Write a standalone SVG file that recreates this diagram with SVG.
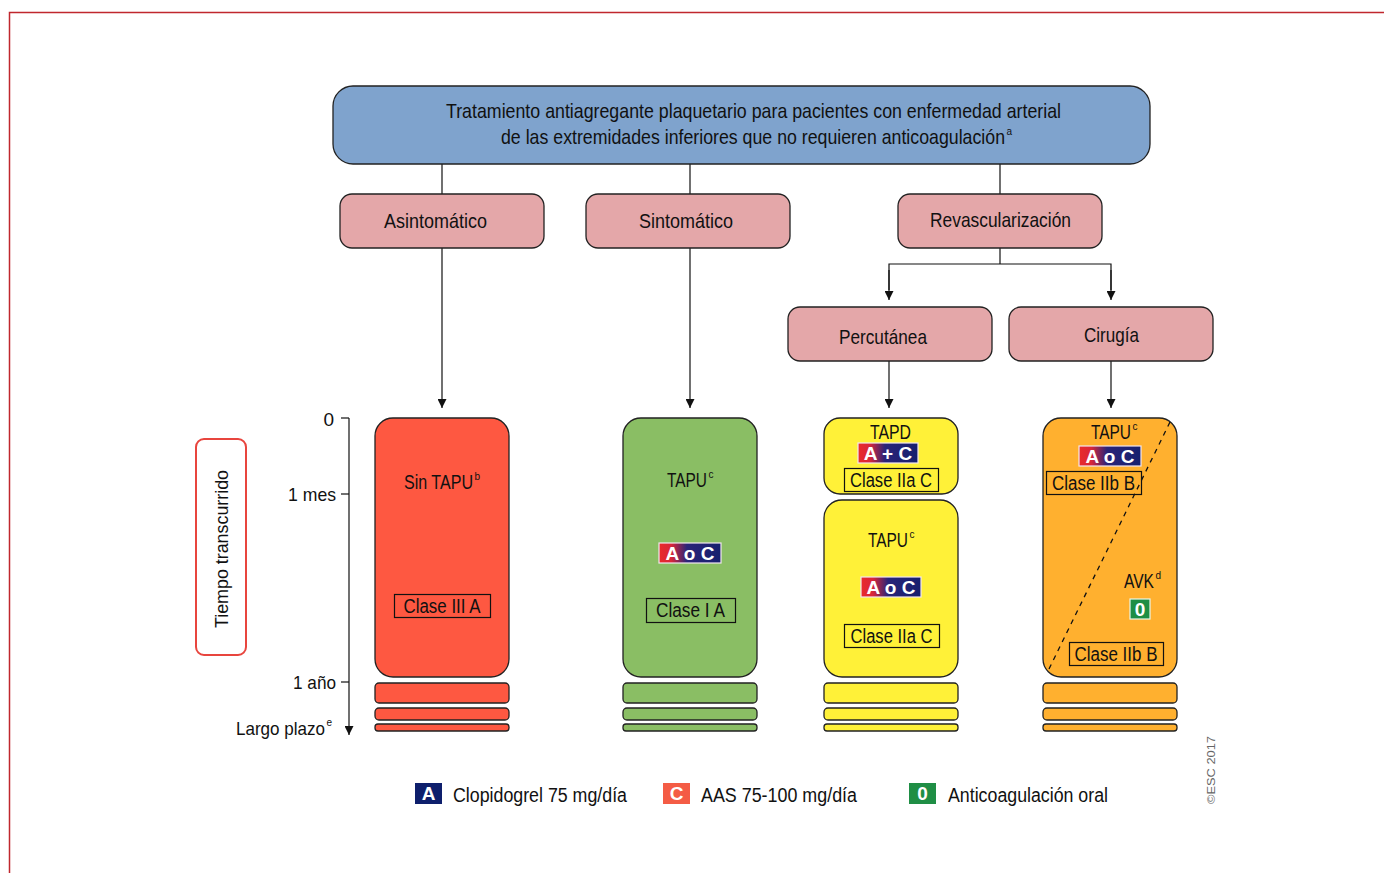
<svg xmlns="http://www.w3.org/2000/svg" width="1384" height="873" viewBox="0 0 1384 873">
<defs>
<style>
text{font-family:"Liberation Sans",Arial,sans-serif;fill:#111}
.t21{font-size:21px}
.t20{font-size:20px}
.t19{font-size:19px}
.sup{font-size:10px}
.box{stroke:#222;stroke-width:1.3}
.blue{fill:#7fa3cd}
.pink{fill:#e4a7a9}
.red{fill:#fe5841}
.green{fill:#8abe64}
.yellow{fill:#fff138}
.orange{fill:#ffb02f}
.cls{fill:none;stroke:#111;stroke-width:1.2}
.wl{font-weight:bold;fill:#fff;font-size:19px}
.ln{stroke:#111;stroke-width:1.2;fill:none}
</style>
<linearGradient id="bg" x1="0" y1="0" x2="1" y2="0">
<stop offset="0" stop-color="#ea2a2a"/>
<stop offset="0.2" stop-color="#d8263a"/>
<stop offset="0.45" stop-color="#2a2478"/>
<stop offset="1" stop-color="#16206e"/>
</linearGradient>
<marker id="ar" viewBox="0 0 10 10" refX="10" refY="5" markerWidth="9" markerHeight="9" markerUnits="userSpaceOnUse" orient="auto">
<path d="M0,0 L10,5 L0,10 z" fill="#111"/>
</marker>
</defs>
<rect width="1384" height="873" fill="#fff"/>
<path d="M9.5,873 V12.5 H1384" fill="none" stroke="#c0272d" stroke-width="1.5"/>

<g id="connectors">
<line class="ln" x1="442" y1="164" x2="442" y2="194"/>
<line class="ln" x1="690" y1="164" x2="690" y2="194"/>
<line class="ln" x1="1000" y1="164" x2="1000" y2="194"/>
<line class="ln" x1="442" y1="248" x2="442" y2="408" marker-end="url(#ar)"/>
<line class="ln" x1="690" y1="248" x2="690" y2="408" marker-end="url(#ar)"/>
<polyline class="ln" points="1000,248 1000,264"/>
<polyline class="ln" points="889,290 889,264 1111,264 1111,290"/>
<line class="ln" x1="889" y1="270" x2="889" y2="300" marker-end="url(#ar)"/>
<line class="ln" x1="1111" y1="270" x2="1111" y2="300" marker-end="url(#ar)"/>
<line class="ln" x1="889" y1="361" x2="889" y2="408" marker-end="url(#ar)"/>
<line class="ln" x1="1111" y1="361" x2="1111" y2="408" marker-end="url(#ar)"/>
</g>

<g id="top">
<rect class="box blue" x="333" y="86" width="817" height="78" rx="20"/>
<text class="t21" x="753.5" y="118" text-anchor="middle" textLength="615" lengthAdjust="spacingAndGlyphs">Tratamiento antiagregante plaquetario para pacientes con enfermedad arterial</text>
<text class="t21" x="501" y="144"><tspan textLength="504" lengthAdjust="spacingAndGlyphs">de las extremidades inferiores que no requieren anticoagulación</tspan><tspan class="sup" dx="1.5" dy="-9">a</tspan></text>
</g>

<g id="asintomatico">
<rect class="box pink" x="340" y="194" width="204" height="54" rx="12"/>
<text class="t21" x="435.5" y="228" text-anchor="middle" textLength="103" lengthAdjust="spacingAndGlyphs">Asintomático</text>
</g>
<g id="sintomatico">
<rect class="box pink" x="586" y="194" width="204" height="54" rx="12"/>
<text class="t21" x="686" y="228" text-anchor="middle" textLength="94" lengthAdjust="spacingAndGlyphs">Sintomático</text>
</g>
<g id="revascularizacion">
<rect class="box pink" x="898" y="194" width="204" height="54" rx="12"/>
<text class="t21" x="1000.5" y="227" text-anchor="middle" textLength="141" lengthAdjust="spacingAndGlyphs">Revascularización</text>
</g>
<g id="percutanea">
<rect class="box pink" x="788" y="307" width="204" height="54" rx="12"/>
<text class="t21" x="883" y="344" text-anchor="middle" textLength="88" lengthAdjust="spacingAndGlyphs">Percutánea</text>
</g>
<g id="cirugia">
<rect class="box pink" x="1009" y="307" width="204" height="54" rx="12"/>
<text class="t21" x="1111.5" y="342" text-anchor="middle" textLength="55" lengthAdjust="spacingAndGlyphs">Cirugía</text>
</g>

<g id="timeline">
<line class="ln" x1="349" y1="418" x2="349" y2="735" marker-end="url(#ar)"/>
<line class="ln" x1="341" y1="418" x2="349" y2="418"/>
<line class="ln" x1="341" y1="494" x2="349" y2="494"/>
<line class="ln" x1="341" y1="682" x2="349" y2="682"/>
<text class="t19" x="334" y="426" text-anchor="end">0</text>
<text class="t19" x="336" y="501" text-anchor="end" textLength="48" lengthAdjust="spacingAndGlyphs">1 mes</text>
<text class="t19" x="336" y="689" text-anchor="end" textLength="43" lengthAdjust="spacingAndGlyphs">1 año</text>
<text class="t19" x="236" y="735"><tspan textLength="89" lengthAdjust="spacingAndGlyphs">Largo plazo</tspan><tspan class="sup" dx="1.5" dy="-9">e</tspan></text>
</g>

<g id="tiempo">
<rect x="196" y="439" width="50" height="216" rx="8" fill="#fff" stroke="#e8453e" stroke-width="2"/>
<text class="t19" transform="translate(228,549) rotate(-90)" text-anchor="middle" textLength="158" lengthAdjust="spacingAndGlyphs">Tiempo transcurrido</text>
</g>

<g id="col-asintomatico">
<rect class="box red" x="375" y="418" width="134" height="259" rx="18"/>
<rect class="box red" x="375" y="683" width="134" height="20" rx="4"/>
<rect class="box red" x="375" y="708" width="134" height="12" rx="4"/>
<rect class="box red" x="375" y="724" width="134" height="7" rx="3"/>
<text class="t20" x="404" y="489"><tspan textLength="69" lengthAdjust="spacingAndGlyphs">Sin TAPU</tspan><tspan class="sup" dx="1.5" dy="-9">b</tspan></text>
<rect class="cls" x="394.5" y="594.5" width="96" height="23"/>
<text class="t20" x="442" y="613" text-anchor="middle" textLength="77" lengthAdjust="spacingAndGlyphs">Clase III A</text>
</g>

<g id="col-sintomatico">
<rect class="box green" x="623" y="418" width="134" height="259" rx="18"/>
<rect class="box green" x="623" y="683" width="134" height="20" rx="4"/>
<rect class="box green" x="623" y="708" width="134" height="12" rx="4"/>
<rect class="box green" x="623" y="724" width="134" height="7" rx="3"/>
<text class="t20" x="667" y="487"><tspan textLength="40" lengthAdjust="spacingAndGlyphs">TAPU</tspan><tspan class="sup" dx="1.5" dy="-9">c</tspan></text>
<rect x="659" y="543" width="62" height="20" fill="url(#bg)" stroke="#f2e6f0" stroke-width="1.2"/>
<text class="wl" x="690" y="560" text-anchor="middle">A o C</text>
<rect class="cls" x="646.5" y="598.5" width="89" height="24"/>
<text class="t20" x="690.5" y="617" text-anchor="middle" textLength="69" lengthAdjust="spacingAndGlyphs">Clase I A</text>
</g>

<g id="col-percutanea">
<rect class="box yellow" x="824" y="418" width="134" height="76" rx="16"/>
<rect class="box yellow" x="824" y="500" width="134" height="177" rx="18"/>
<rect class="box yellow" x="824" y="683" width="134" height="20" rx="4"/>
<rect class="box yellow" x="824" y="708" width="134" height="12" rx="4"/>
<rect class="box yellow" x="824" y="724" width="134" height="7" rx="3"/>
<text class="t20" x="890.5" y="439" text-anchor="middle" textLength="41" lengthAdjust="spacingAndGlyphs">TAPD</text>
<rect x="858" y="443" width="60" height="20" fill="url(#bg)" stroke="#f2e6f0" stroke-width="1.2"/>
<text class="wl" x="888" y="460" text-anchor="middle">A + C</text>
<rect class="cls" x="844.5" y="468.5" width="94" height="23"/>
<text class="t20" x="891" y="487" text-anchor="middle" textLength="82" lengthAdjust="spacingAndGlyphs">Clase IIa C</text>
<text class="t20" x="868" y="547"><tspan textLength="40" lengthAdjust="spacingAndGlyphs">TAPU</tspan><tspan class="sup" dx="1.5" dy="-9">c</tspan></text>
<rect x="861" y="577" width="60" height="20" fill="url(#bg)" stroke="#f2e6f0" stroke-width="1.2"/>
<text class="wl" x="891" y="594" text-anchor="middle">A o C</text>
<rect class="cls" x="844.5" y="624.5" width="95" height="23"/>
<text class="t20" x="891.5" y="643" text-anchor="middle" textLength="82" lengthAdjust="spacingAndGlyphs">Clase IIa C</text>
</g>

<g id="col-cirugia">
<rect class="box orange" x="1043" y="418" width="134" height="259" rx="18"/>
<rect class="box orange" x="1043" y="683" width="134" height="20" rx="4"/>
<rect class="box orange" x="1043" y="708" width="134" height="12" rx="4"/>
<rect class="box orange" x="1043" y="724" width="134" height="7" rx="3"/>
<line x1="1170" y1="422" x2="1047" y2="673" stroke="#111" stroke-width="1.3" stroke-dasharray="5,5"/>
<text class="t20" x="1091" y="439"><tspan textLength="40" lengthAdjust="spacingAndGlyphs">TAPU</tspan><tspan class="sup" dx="1.5" dy="-9">c</tspan></text>
<rect x="1079" y="446" width="62" height="20" fill="url(#bg)" stroke="#f2e6f0" stroke-width="1.2"/>
<text class="wl" x="1110" y="463" text-anchor="middle">A o C</text>
<rect class="cls" x="1046.5" y="471.5" width="95" height="23"/>
<text class="t20" x="1093.5" y="490" text-anchor="middle" textLength="83" lengthAdjust="spacingAndGlyphs">Clase IIb B</text>
<text class="t20" x="1124" y="588"><tspan textLength="30" lengthAdjust="spacingAndGlyphs">AVK</tspan><tspan class="sup" dx="1.5" dy="-9">d</tspan></text>
<rect x="1130" y="599" width="20" height="20" fill="#1f8e45" stroke="#eaf5ea" stroke-width="1.2"/>
<text class="wl" x="1140" y="616" text-anchor="middle">0</text>
<rect class="cls" x="1069.5" y="642.5" width="94" height="23"/>
<text class="t20" x="1116" y="661" text-anchor="middle" textLength="83" lengthAdjust="spacingAndGlyphs">Clase IIb B</text>
</g>

<g id="legend">
<rect x="415" y="783" width="27" height="21" fill="#0e1f6c"/>
<text class="wl" x="428.5" y="800" text-anchor="middle">A</text>
<text class="t20" x="453" y="802" textLength="174" lengthAdjust="spacingAndGlyphs">Clopidogrel 75 mg/día</text>
<rect x="663" y="783" width="27" height="21" fill="#f45c45"/>
<text class="wl" x="676.5" y="800" text-anchor="middle">C</text>
<text class="t20" x="701" y="802" textLength="156" lengthAdjust="spacingAndGlyphs">AAS 75-100 mg/día</text>
<rect x="909" y="783" width="27" height="21" fill="#1f8e45"/>
<text class="wl" x="922.5" y="800" text-anchor="middle">0</text>
<text class="t20" x="948" y="802" textLength="160" lengthAdjust="spacingAndGlyphs">Anticoagulación oral</text>
</g>

<text transform="translate(1215,804) rotate(-90)" style="font-size:11px;fill:#666" textLength="68" lengthAdjust="spacingAndGlyphs">©ESC 2017</text>
</svg>
